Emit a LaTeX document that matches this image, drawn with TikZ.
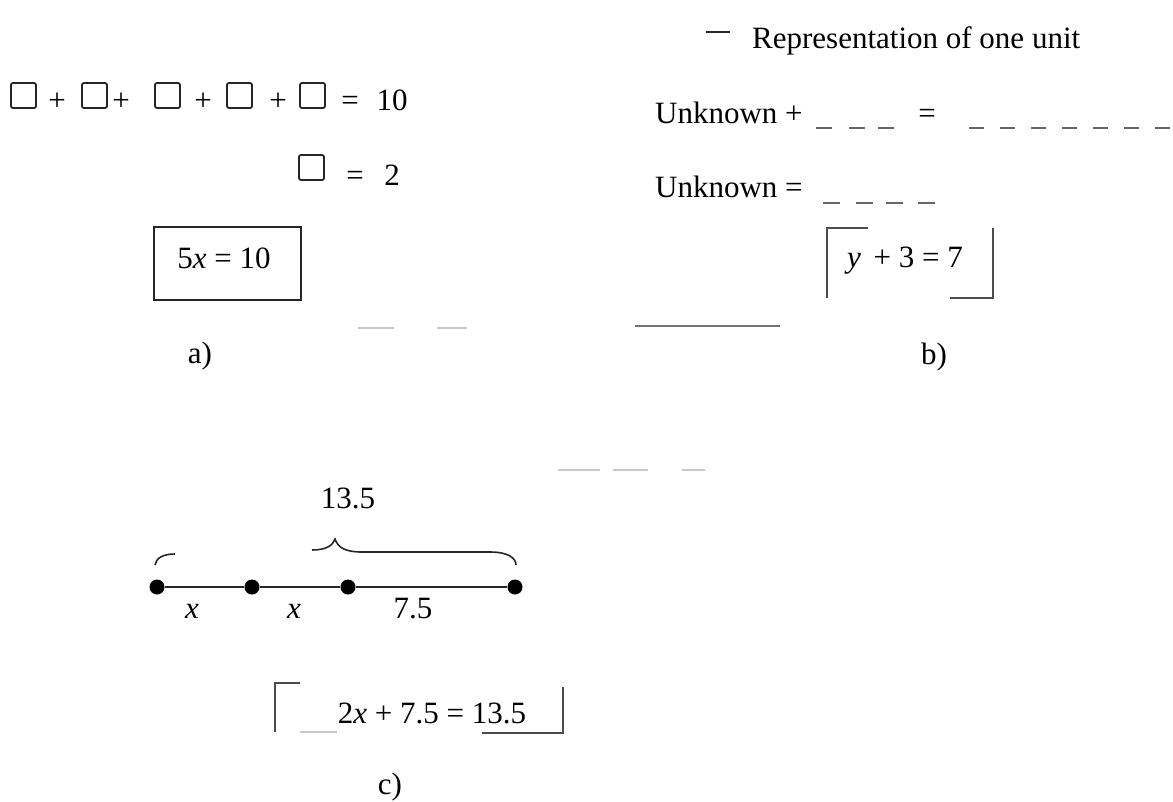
\documentclass[tikz,border=0pt]{standalone}
\usepackage{fontspec}
\setmainfont{Liberation Serif}
\begin{document}
\begin{tikzpicture}[x=1pt, y=-1pt,
    every node/.style={font=\fontsize{31}{36}\selectfont, inner sep=0pt},
    lbl/.style={anchor=base},
    unitsq/.style={rectangle, draw=black!85, line width=1.8pt, rounded corners=2pt, minimum size=25pt},
    frame/.style={rectangle, draw=black!85, line width=2pt},
    bracket/.style={draw=black!70, line width=1.6pt},
    ink/.style={draw=black!85, line width=1.6pt},
    unitdash/.style={draw=black!60, line width=1.6pt},
    ghost/.style={draw=black!22, line width=1.5pt},
    nlpoint/.style={circle, fill=black, minimum size=15pt},
    seg/.style={draw=black!85, line width=1.6pt}
  ]
  \useasboundingbox (0,0) rectangle (1173,801);

  % a) five unit boxes
  \foreach \i/\px in {1/23.5, 2/94.5, 3/167.5, 4/239.5, 5/312.5} {
    \node[unitsq] (sq\i) at (\px,95.5) {};
  }
  \foreach \i/\px in {1/57, 2/121, 3/203, 4/278} {
    \node[lbl] (plus\i) at (\px,110) {+};
  }
  \node[lbl] (eqA) at (350,110) {=};
  \node[lbl] (ten) at (392,110) {10};
  \node[unitsq] (sq0) at (311.5,167.5) {};
  \node[lbl] (eqB) at (355,185) {=};
  \node[lbl] (two) at (392,185) {2};
  \node[frame, minimum width=147pt, minimum height=73pt] (boxA) at (227.5,263.5) {};
  \node[lbl] (eqnA) at (224,268) {5\textit{x} = 10};
  \node (capA) at (200,356) {a)};
  \draw[ghost] (358,328) -- (394,328);
  \draw[ghost] (437,328) -- (467,328);

  % b) unknown plus units
  \draw[ink] (706,32) -- (730,32);
  \node[lbl, anchor=base west] (legend) at (752,48) {Representation of one unit};
  \node[lbl, anchor=base west] (lhsA) at (655,123) {Unknown +};
  \foreach \px in {816,849,878} {
    \draw[unitdash] (\px,128) -- ++(16,0);
  }
  \node[lbl] (eqC) at (927,123) {=};
  \foreach \k in {0,...,6} {
    \draw[unitdash] ({969+31*\k},128) -- ++(15,0);
  }
  \node[lbl, anchor=base west] (lhsB) at (655,197) {Unknown =};
  \foreach \px in {823,856,886,918} {
    \draw[unitdash] (\px,203) -- ++(17,0);
  }
  \draw[bracket] (868,228) -- (827,228) -- (827,298);
  \draw[bracket] (993,228) -- (993,298) -- (950,298);
  \node[lbl] (eqnB) at (905,267) {\textit{y}\, + 3 = 7};
  \draw[draw=black!55, line width=1.5pt] (635,326) -- (780,326);
  \node (capB) at (934,357) {b)};

  % c) number line
  \draw[ghost] (558,470) -- (600,470);
  \draw[ghost] (613,470) -- (648,470);
  \draw[ghost] (682,470) -- (705,470);
  \node[lbl] (total) at (348,508) {13.5};
  \draw[ink] (155,565) .. controls (156,558) and (163,554) .. (175,554);
  \draw[ink] (312,550) .. controls (325,550) and (333,546) .. (335,539)
    .. controls (338,548) and (346,552) .. (362,552) -- (490,552)
    .. controls (508,552) and (516,558) .. (516,565);
  \node[nlpoint] (p0) at (157,587) {};
  \node[nlpoint] (p1) at (252,587) {};
  \node[nlpoint] (p2) at (348,587) {};
  \node[nlpoint] (p3) at (515,587) {};
  \draw[seg] (p0) -- (p1) -- (p2) -- (p3);
  \node[lbl] (lenA) at (192,618) {\textit{x}};
  \node[lbl] (lenB) at (294,618) {\textit{x}};
  \node[lbl] (lenC) at (413,618) {7.5};
  \draw[bracket] (300,683) -- (275,683) -- (275,732);
  \draw[ghost] (300,732) -- (337,732);
  \draw[bracket] (563,687) -- (563,733) -- (482,733);
  \node[lbl] (eqnC) at (432,723) {2\textit{x} + 7.5 = 13.5};
  \node (capC) at (390,787) {c)};
\end{tikzpicture}
\end{document}
